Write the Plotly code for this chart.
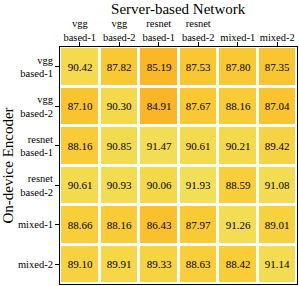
import plotly.graph_objects as go

cols = ["vgg<br>based-1", "vgg<br>based-2", "resnet<br>based-1", "resnet<br>based-2", "mixed-1", "mixed-2"]
rows = ["vgg<br>based-1", "vgg<br>based-2", "resnet<br>based-1", "resnet<br>based-2", "mixed-1", "mixed-2"]
values = [
    [90.42, 87.82, 85.19, 87.53, 87.80, 87.35],
    [87.10, 90.30, 84.91, 87.67, 88.16, 87.04],
    [88.16, 90.85, 91.47, 90.61, 90.21, 89.42],
    [90.61, 90.93, 90.06, 91.93, 88.59, 91.08],
    [88.66, 88.16, 86.43, 87.97, 91.26, 89.01],
    [89.10, 89.91, 89.33, 88.63, 88.42, 91.14],
]

colorscale = [[0, "#FAB626"], [0.44, "#F9CA34"], [0.785, "#F4DA4C"], [1, "#F2DF58"]]

fig = go.Figure(go.Heatmap(
    z=values, x=cols, y=rows,
    colorscale=colorscale, showscale=False,
    xgap=3, ygap=3,
    texttemplate="%{z:.2f}",
    textfont=dict(family="Liberation Serif", size=11, color="black"),
    hoverinfo="skip",
))

fig.update_layout(
    width=299, height=286,
    margin=dict(l=60, r=2, t=47, b=2, autoexpand=False),
    paper_bgcolor="white", plot_bgcolor="white",
    font=dict(family="Liberation Serif", size=11, color="black"),
    title=dict(text="Server-based Network", x=0.596, xanchor="center", y=0.988, yanchor="top",
               font=dict(family="Liberation Serif", size=15, color="black")),
    xaxis=dict(side="top", ticks="outside", ticklen=4, tickcolor="black",
               showline=True, mirror=True, linecolor="black", linewidth=1,
               tickfont=dict(family="Liberation Serif", size=10.5, color="black"),
               ticklabelstandoff=-3,
               showgrid=False, zeroline=False, automargin=False),
    yaxis=dict(autorange="reversed", ticks="outside", ticklen=4, tickcolor="black",
               showline=True, mirror=True, linecolor="black", linewidth=1,
               tickfont=dict(family="Liberation Serif", size=10.5, color="black"),
               title=dict(text="On-device Encoder", standoff=4,
                          font=dict(family="Liberation Serif", size=15, color="black")),
               showgrid=False, zeroline=False, automargin=False),
)

fig.write_html("out.html", config={"displayModeBar": False},
               post_script="document.body.style.margin='0';document.body.style.overflow='hidden';")
